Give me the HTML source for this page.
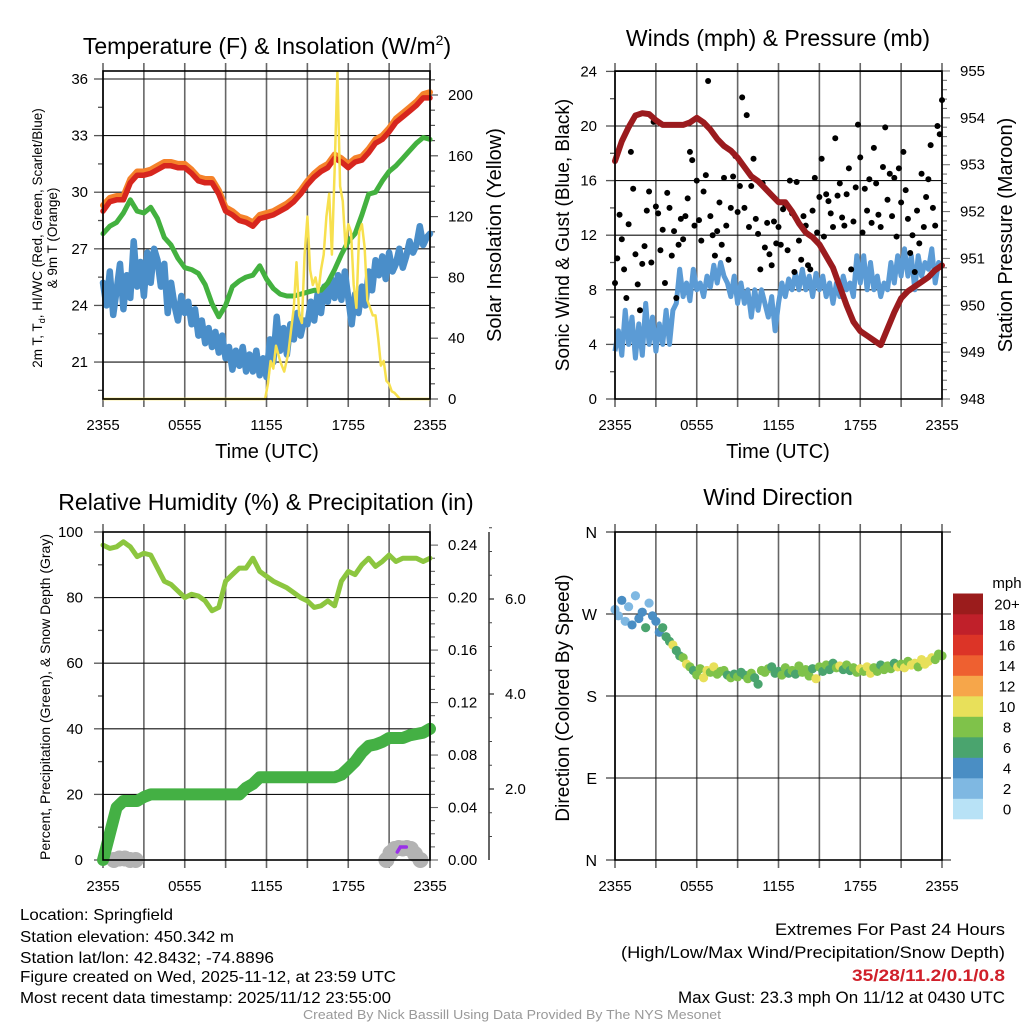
<!DOCTYPE html>
<html><head><meta charset="utf-8"><style>
html,body{margin:0;padding:0;background:#fff;}
svg{display:block;font-family:"Liberation Sans",sans-serif;}
</style></head><body>
<svg id="fig" width="1024" height="1024" viewBox="0 0 1024 1024" xmlns="http://www.w3.org/2000/svg">
<rect width="1024" height="1024" fill="#fff"/>
<g id="g1"></g>
<g id="g2"></g>
<g id="g3"></g>
<g id="g4"></g>
<g id="foot">
<text x="20" y="920" font-size="16" textLength="153" lengthAdjust="spacingAndGlyphs">Location: Springfield</text>
<text x="20" y="942" font-size="16" textLength="214" lengthAdjust="spacingAndGlyphs">Station elevation: 450.342 m</text>
<text x="20" y="963" font-size="16" textLength="254" lengthAdjust="spacingAndGlyphs">Station lat/lon: 42.8432; -74.8896</text>
<text x="20" y="982" font-size="16" textLength="376" lengthAdjust="spacingAndGlyphs">Figure created on Wed, 2025-11-12, at 23:59 UTC</text>
<text x="20" y="1003" font-size="16" textLength="371" lengthAdjust="spacingAndGlyphs">Most recent data timestamp: 2025/11/12 23:55:00</text>
<text x="775" y="935" font-size="17" textLength="230" lengthAdjust="spacingAndGlyphs">Extremes For Past 24 Hours</text>
<text x="621" y="958" font-size="17" textLength="384" lengthAdjust="spacingAndGlyphs">(High/Low/Max Wind/Precipitation/Snow Depth)</text>
<text x="852" y="981" font-size="17" textLength="153" lengthAdjust="spacingAndGlyphs" font-weight="bold" fill="#d0202a">35/28/11.2/0.1/0.8</text>
<text x="678" y="1003" font-size="17" textLength="327" lengthAdjust="spacingAndGlyphs">Max Gust: 23.3 mph On 11/12 at 0430 UTC</text>
<text x="303" y="1019" font-size="13" textLength="418" lengthAdjust="spacingAndGlyphs" fill="#999">Created By Nick Bassill Using Data Provided By The NYS Mesonet</text>
</g>
</svg>
<script>
// ---------- data ----------
const timeLabels = ["2355","0555","1155","1755","2355"];
const tempRed = [29.0,29.5,29.6,29.6,30.5,30.9,30.9,31.0,31.2,31.4,31.4,31.3,31.3,31.0,30.6,30.5,30.5,29.9,29.0,28.8,28.5,28.4,28.2,28.6,28.7,28.8,29.0,29.2,29.5,29.9,30.4,30.8,31.1,31.3,31.8,31.6,31.3,31.6,31.7,32.1,32.6,32.8,33.2,33.7,34.0,34.3,34.6,35.0,35.0];
const tempOrange = [29.3,29.7,29.8,29.8,30.7,31.1,31.1,31.2,31.4,31.6,31.6,31.5,31.5,31.2,30.8,30.7,30.7,30.1,29.2,29.0,28.7,28.6,28.4,28.8,28.9,29.0,29.2,29.4,29.7,30.1,30.6,31.0,31.3,31.5,32.0,31.8,31.5,31.8,31.9,32.3,32.8,33.0,33.4,33.9,34.2,34.5,34.8,35.2,35.3];
const dewGreen = [27.8,28.2,28.4,28.9,29.6,29.0,28.9,29.2,28.6,27.6,27.2,26.5,26.0,25.9,25.7,25.1,24.1,23.4,24.0,25.0,25.3,25.5,25.6,26.1,25.4,24.9,24.6,24.5,24.5,24.6,24.7,24.8,24.8,25.2,25.9,26.7,27.4,27.8,28.8,29.9,30.0,30.6,31.1,31.4,31.8,32.2,32.6,32.9,32.8];
const chillBlue = [25.2,24.0,25.8,23.5,24.8,26.2,23.8,25.6,24.4,27.4,25.0,26.3,24.5,26.8,25.2,27.0,26.4,25.0,26.2,23.6,25.2,24.0,23.2,24.5,23.6,24.2,23.0,23.8,22.4,23.2,22.0,22.8,21.8,22.6,21.5,22.4,21.2,21.8,20.6,21.6,20.8,21.8,20.5,21.4,20.5,21.6,20.3,21.2,20.2,22.2,21.0,23.4,21.6,22.8,21.4,23.0,22.2,23.6,22.4,23.2,23.0,24.2,23.2,24.6,23.6,25.0,24.2,25.4,24.4,25.6,24.3,25.8,24.4,23.0,24.6,23.6,25.0,24.0,25.8,24.8,26.4,25.6,26.6,25.4,26.8,25.8,26.2,27.0,26.0,26.6,27.4,26.8,27.2,28.2,27.2,27.6,27.8];
const solarHours = [0,11.9,12.1,12.3,12.5,12.7,13,13.3,13.6,13.8,14,14.2,14.4,14.6,14.8,15,15.2,15.4,15.6,15.8,16,16.2,16.4,16.6,16.8,17,17.2,17.4,17.6,17.8,18,18.2,18.4,18.6,18.8,19,19.2,19.4,19.6,19.8,20,20.2,20.4,20.6,20.8,21,21.2,21.4,21.6,21.8,24];
const solarValues = [0,0,10,25,20,35,25,18,30,45,60,90,55,50,95,120,85,75,80,70,85,95,120,135,95,150,215,140,130,100,115,110,75,60,110,115,100,65,60,55,55,40,22,25,12,10,5,4,2,0,0];
const tempTicks = [21,24,27,30,33,36];
const solarTicks = [0,40,80,120,160,200];

const windSpeed = [3.5,5.0,3.2,6.5,4.0,6.0,3.0,5.5,3.2,7.0,4.0,6.0,3.5,5.5,4.0,6.5,4.0,6.5,7.0,9.5,7.5,8.5,7.2,9.5,8.0,8.5,7.5,9.0,8.2,9.8,8.5,10.0,9.0,8.5,7.5,9.0,7.0,8.5,7.0,8.0,6.0,8.0,6.5,8.0,7.0,6.0,7.5,5.0,7.0,8.5,7.5,8.8,8.0,9.2,8.0,9.5,8.0,9.0,7.5,9.2,8.0,9.0,7.5,8.5,7.0,8.5,7.5,9.0,8.0,8.5,7.5,10.5,8.5,10.5,8.0,10.0,8.0,9.0,7.5,8.5,8.0,10.0,8.5,10.5,9.0,11.0,9.0,10.5,8.0,10.5,9.0,10.0,9.5,11.0,8.5,10.0,9.8];
const windGust = [8.5,10.3,13.5,11.7,9.5,7.4,12.8,18.1,15.4,10.6,8.4,6.5,9.9,11.2,13.8,15.2,10.0,20.3,14.1,13.6,10.9,12.4,8.5,15.1,14.0,10.5,12.3,7.4,11.3,13.2,11.7,13.4,14.7,18.1,17.5,12.7,16.0,13.1,11.6,15.2,16.4,23.3,13.4,12.0,10.5,12.3,14.4,11.3,16.2,12.7,10.2,14.0,16.3,17.8,13.7,15.6,22.1,14.0,20.8,12.6,15.6,17.6,13.2,12.1,9.5,15.8,11.1,12.9,10.6,9.8,13.0,11.4,12.6,11.3,13.9,14.2,10.9,16.0,13.6,9.3,15.9,11.6,10.2,13.4,12.7,9.8,9.5,13.8,16.2,12.2,14.8,17.6,11.9,15.0,14.5,13.6,12.6,19.1,14.9,15.8,13.3,12.7,15.0,16.9,9.5,13.0,15.5,20.1,17.7,12.2,15.4,13.8,16.1,12.9,18.4,15.8,13.5,12.6,17.0,19.9,14.6,16.5,13.4,16.2,11.9,16.9,14.4,18.1,15.3,13.2,10.7,12.0,9.3,13.8,11.4,16.5,12.6,14.8,16.1,18.6,14.0,12.7,20.0,19.4,21.9];
const pressure = [953.08,953.5,953.8,954.05,954.1,954.08,953.95,953.85,953.85,953.85,953.85,953.9,954.0,953.9,953.75,953.55,953.4,953.3,953.15,952.95,952.75,952.65,952.5,952.35,952.2,952.2,952.0,951.75,951.55,951.45,951.3,951.05,950.8,950.4,950.0,949.65,949.45,949.35,949.25,949.15,949.5,949.85,950.15,950.3,950.4,950.5,950.6,950.75,950.85];
const windTicks = [0,4,8,12,16,20,24];
const pressTicks = [948,949,950,951,952,953,954,955];

const rh = [96,95,95.5,97,95.5,92.5,93.5,93,89,85,84,82,80,81,80.5,79,76,77,85,87,89,89,92,88,86.5,85,84,83,81.5,80,79,77,77.5,79,77.5,85,88,87,90,92,89.5,91,93,91,92,92,92,91,92];
const precip = [0,0.02,0.04,0.045,0.045,0.045,0.048,0.05,0.05,0.05,0.05,0.05,0.05,0.05,0.05,0.05,0.05,0.05,0.05,0.05,0.05,0.055,0.058,0.063,0.063,0.063,0.063,0.063,0.063,0.063,0.063,0.063,0.063,0.063,0.063,0.065,0.07,0.075,0.082,0.087,0.088,0.09,0.093,0.093,0.093,0.095,0.096,0.097,0.1];
const snowHours = [0.8,1.2,1.6,2.0,2.4,20.8,21.1,21.4,21.7,22.0,22.3,22.6,22.9,23.3];
const snowDepth = [0,0.3,0.3,0,0,0,1.4,2.2,2.4,2.3,2.4,2.2,1.2,0];
const pctTicks = [0,20,40,60,80,100];
const precipTicks = [0,0.04,0.08,0.12,0.16,0.20,0.24];
const snowTicks = ["2.0","4.0","6.0"];

const dirVals = [275,268,285,262,278,258,290,265,272,255,282,268,262,250,255,245,240,236,230,224,222,215,212,208,203,210,200,208,206,212,204,207,208,203,200,204,201,206,203,199,205,200,193,208,206,210,212,205,207,203,211,205,208,204,213,206,209,202,210,199,212,207,214,209,216,211,213,209,214,208,211,206,210,207,212,205,211,207,214,209,213,210,216,212,215,211,218,214,216,212,220,215,218,222,220,226,224];
const dirSpeed = [3,2,4,3,2,4,3,5,4,6,3,5,5,4,6,7,6,10,6,7,8,10,9,7,8,9,10,10,8,10,9,8,9,7,8,6,8,7,6,9,8,7,6,8,9,8,7,6,7,8,9,6,8,7,9,8,9,8,7,10,8,6,9,7,6,8,10,7,8,7,9,8,10,9,10,11,9,8,7,8,8,9,7,10,9,10,8,11,10,9,10,11,10,11,9,8,8];
const dirLabels = ["N","E","S","W","N"];
const speedColors = ['#b8e2f6','#7fb8e2','#4a8ec4','#4aa46e','#7fc24a','#e8e05a','#f6a64a','#ee6030','#dc3427','#c0202a','#9b1c1c'];
const speedLabels = ["0","2","4","6","8","10","12","14","16","18","20+"];

// ---------- helpers ----------
const NS = "http://www.w3.org/2000/svg";
function mk(parent, tag, attrs){ const e=document.createElementNS(NS,tag); for(const k in attrs) e.setAttribute(k,attrs[k]); parent.appendChild(e); return e; }
function ln(p,x1,y1,x2,y2,c,w){ return mk(p,'line',{x1,y1,x2,y2,stroke:c,'stroke-width':w}); }
function tx(p,x,y,s,size,anchor,extra){ const t=mk(p,'text',Object.assign({x,y,'font-size':size,'text-anchor':anchor||'start'},extra||{})); t.textContent=s; return t; }
function pathD(xs,ys){ return xs.map((x,i)=>(i?'L':'M')+x.toFixed(1)+','+ys[i].toFixed(1)).join(''); }
const X0=103, X1=430, RX0=615, RX1=942;
function frame(g,x0,x1,top,bot,ybot){
  for(let h=0;h<=24;h+=3){ const x=x0+h*(x1-x0)/24; const l=ln(g,x,top-8,x,bot+8,'#666',1.6);
      }
  timeLabels.forEach((s,i)=>{ const t=tx(g,x0+i*6*(x1-x0)/24,ybot,s,15,'middle');
      });
}
function border(g,x0,x1,top,bot){ const r=mk(g,'rect',{x:x0,y:top,width:x1-x0,height:bot-top,fill:'none',stroke:'#000','stroke-width':1.6});
    }

// ---------- panel 1 ----------
(function(){
  const g=document.getElementById('g1'); const top=71, bot=399;
  const X=h=>X0+h*(X1-X0)/24; const Y=t=>79+(36-t)*18.87; const Ys=s=>399-s*1.52;
  const T=tx(g,267,54,'Temperature (F) & Insolation (W/m',23,'middle');
  const sup=mk(T,'tspan',{'font-size':14,dy:-9}); sup.textContent='2';
  const cl=mk(T,'tspan',{dy:9}); cl.textContent=')';
   
  frame(g,X0,X1,top,bot,430);
  for(let t=19.5;t<=36.1;t+=1.5){ const y=Y(t); const major=tempTicks.includes(Math.round(t*10)/10);
    ln(g,X0-(major?9:5),y,X0,y,'#555',1.3); }
  tempTicks.forEach(t=>{ const y=Y(t); const l=ln(g,X0,y,X1,y,'#111',1.1);  
    const lab=tx(g,88,y+5,String(t),15,'end');   });
  for(let s=0;s<=210;s+=10){ const y=Ys(s); ln(g,X1,y,X1+(s%40===0?8:5),y,'#555',1.2); }
  solarTicks.forEach(s=>{ const lab=tx(g,448,Ys(s)+5,String(s),15,'start');   });
  const hrs=a=>a.map((_,i)=>X(i*24/(a.length-1)));
  const series=[[chillBlue,'#4a8ec9',6.5,'chill-line'],[dewGreen,'#43b13f',5,'dewpoint-line'],[tempOrange,'#f5822a',6,'temp-9m-line'],[tempRed,'#d7261e',5.5,'temp-2m-line']];
  series.forEach(([a,c,w,n])=>{ const p=mk(g,'path',{d:pathD(hrs(a),a.map(Y)),fill:'none',stroke:c,'stroke-width':w,'stroke-linejoin':'round','stroke-linecap':'round'});
      });
  const sp=mk(g,'path',{d:pathD(solarHours.map(X),solarValues.map(Ys)),fill:'none',stroke:'#f7e04e','stroke-width':2.5,'stroke-linejoin':'round'});
   
  border(g,X0,X1,top,bot);
  const yl=tx(g,0,0,'',13.5,'middle',{transform:'translate(42,238) rotate(-90)'});
  yl.textContent='2m T, T'; const sub=mk(yl,'tspan',{'font-size':9,dy:3}); sub.textContent='d'; const rest=mk(yl,'tspan',{dy:-3}); rest.textContent=', HI/WC (Red, Green, Scarlet/Blue)';
   
  const yl2=tx(g,0,0,'& 9m T (Orange)',13.5,'middle',{transform:'translate(57,238) rotate(-90)'});
   
  const yr=tx(g,0,0,'Solar Insolation (Yellow)',20,'middle',{transform:'translate(501,235) rotate(-90)'});
   
  const xt=tx(g,267,458,'Time (UTC)',20,'middle');  
})();

// ---------- panel 2 ----------
(function(){
  const g=document.getElementById('g2'); const top=71, bot=399;
  const X=h=>RX0+h*(RX1-RX0)/24; const Y=v=>399-v*13.65; const Yp=p=>399-(p-948)*46.86;
  const T=tx(g,778,46,'Winds (mph) & Pressure (mb)',23,'middle');  
  frame(g,RX0,RX1,top,bot,430);
  for(let v=0;v<=24;v+=2){ const y=Y(v); ln(g,RX0-(v%4===0?9:5),y,RX0,y,'#555',1.3); }
  windTicks.forEach(v=>{ const y=Y(v); const l=ln(g,RX0,y,RX1,y,'#111',1.1);  
    const lab=tx(g,597,y+5,String(v),15,'end');   });
  for(let p=948;p<=955.01;p+=0.2){ const y=Yp(p); const maj=Math.abs(p-Math.round(p))<0.01; ln(g,RX1,y,RX1+(maj?8:5),y,'#777',1.1); }
  pressTicks.forEach(p=>{ const lab=tx(g,960,Yp(p)+5,String(p),15,'start');   });
  const hrs=a=>a.map((_,i)=>X(i*24/(a.length-1)));
  const wp=mk(g,'path',{d:pathD(hrs(windSpeed),windSpeed.map(Y)),fill:'none',stroke:'#5b9bd5','stroke-width':5,'stroke-linejoin':'round'});
   
  const gx=hrs(windGust);
  windGust.forEach((v,i)=>{ const c=mk(g,'circle',{cx:gx[i],cy:Y(v),r:3,fill:'#000'});
      });
  const pp=mk(g,'path',{d:pathD(hrs(pressure),pressure.map(Yp)),fill:'none',stroke:'#9b1b1e','stroke-width':6,'stroke-linejoin':'round','stroke-linecap':'round'});
   
  border(g,RX0,RX1,top,bot);
  const yl=tx(g,0,0,'Sonic Wind & Gust (Blue, Black)',19,'middle',{transform:'translate(569,235) rotate(-90)'});
   
  const yr=tx(g,0,0,'Station Pressure (Maroon)',20,'middle',{transform:'translate(1012,235) rotate(-90)'});
   
  const xt=tx(g,778,458,'Time (UTC)',20,'middle');  
})();

// ---------- panel 3 ----------
(function(){
  const g=document.getElementById('g3'); const top=532, bot=860;
  const X=h=>X0+h*(X1-X0)/24; const Y=v=>860-v*3.28; const Yi=p=>Y(p*400); const Ysn=s=>884-s*47.5;
  const T=tx(g,266,510,'Relative Humidity (%) & Precipitation (in)',23,'middle');  
  frame(g,X0,X1,top,bot,891);
  for(let v=0;v<=100;v+=10){ const y=Y(v); ln(g,X0-(v%20===0?9:5),y,X0,y,'#555',1.3); }
  pctTicks.forEach(v=>{ const y=Y(v); const l=ln(g,X0,y,X1,y,'#111',1.1);  
    const lab=tx(g,83,y+5,String(v),15,'end');   });
  for(let p=0;p<=0.25;p+=0.01){ const y=Yi(p); const maj=Math.round(p*100)%4===0; ln(g,X1,y,X1+(maj?8:5),y,'#666',1.1); }
  precipTicks.forEach(p=>{ const lab=tx(g,448,Yi(p)+5,p.toFixed(2),15,'start');   });
  const ax=ln(g,489,top,489,bot,'#333',1.5);  
  for(let s=1;s<=7.6;s+=0.5){ const y=Ysn(s); ln(g,489,y,492,y,'#444',1); }
  snowTicks.forEach(s=>{ const y=Ysn(parseFloat(s)); ln(g,489,y,494,y,'#333',1.3);
    const lab=tx(g,505,y+5,s,15,'start');   });
  snowHours.forEach((h,i)=>{ const c=mk(g,'circle',{cx:X(h),cy:Y(0)-snowDepth[i]*5,r:8,fill:'#b3b3b3'});
      });
  const pu=mk(g,'path',{d:'M'+X(21.6)+','+(Y(0)-8)+' l3,-5 h6',fill:'none',stroke:'#9a30e8','stroke-width':3.5,'stroke-linecap':'round'});
   
  const hrs=a=>a.map((_,i)=>X(i*24/(a.length-1)));
  const rp=mk(g,'path',{d:pathD(hrs(rh),rh.map(Y)),fill:'none',stroke:'#8cc63f','stroke-width':5,'stroke-linejoin':'round','stroke-linecap':'round'});
   
  const pp=mk(g,'path',{d:pathD(hrs(precip),precip.map(Yi)),fill:'none',stroke:'#44b044','stroke-width':12,'stroke-linejoin':'round','stroke-linecap':'round'});
   
  border(g,X0,X1,top,bot);
  const yl=tx(g,0,0,'Percent, Precipitation (Green), & Snow Depth (Gray)',14,'middle',{transform:'translate(50,697) rotate(-90)'});
   
})();

// ---------- panel 4 ----------
(function(){
  const g=document.getElementById('g4'); const top=532, bot=860;
  const X=h=>RX0+h*(RX1-RX0)/24; const Y=d=>860-d*(328/360);
  const T=tx(g,778,505,'Wind Direction',23,'middle');  
  frame(g,RX0,RX1,top,bot,891);
  dirLabels.forEach((s,i)=>{ const y=Y(i*90); const l=ln(g,RX0-9,y,RX1+9,y,'#111',1.1);  
    const lab=tx(g,597,y+6,s,16,'end');   });
  const dx=dirVals.map((_,i)=>X(i*24/(dirVals.length-1)));
  dirVals.forEach((d,i)=>{ const c=mk(g,'circle',{cx:dx[i],cy:Y(d),r:4.6,fill:speedColors[Math.min(10,Math.floor(dirSpeed[i]/2))]});
      });
  border(g,RX0,RX1,top,bot);
  const yl=tx(g,0,0,'Direction (Colored By Speed)',19,'middle',{transform:'translate(569,698) rotate(-90)'});
   
  const lg=mk(g,'g',{});  
  const u=tx(lg,1007,588,'mph',15,'middle');  
  const bh=20.5;
  speedColors.forEach((c,i)=>{ const y=819-(i+1)*bh; const r=mk(lg,'rect',{x:953,y,width:30,height:bh+0.3,fill:c});
     
    const lab=tx(lg,1007,y+bh/2+5.5,speedLabels[i],15,'middle');   });
})();
</script>
</body></html>
